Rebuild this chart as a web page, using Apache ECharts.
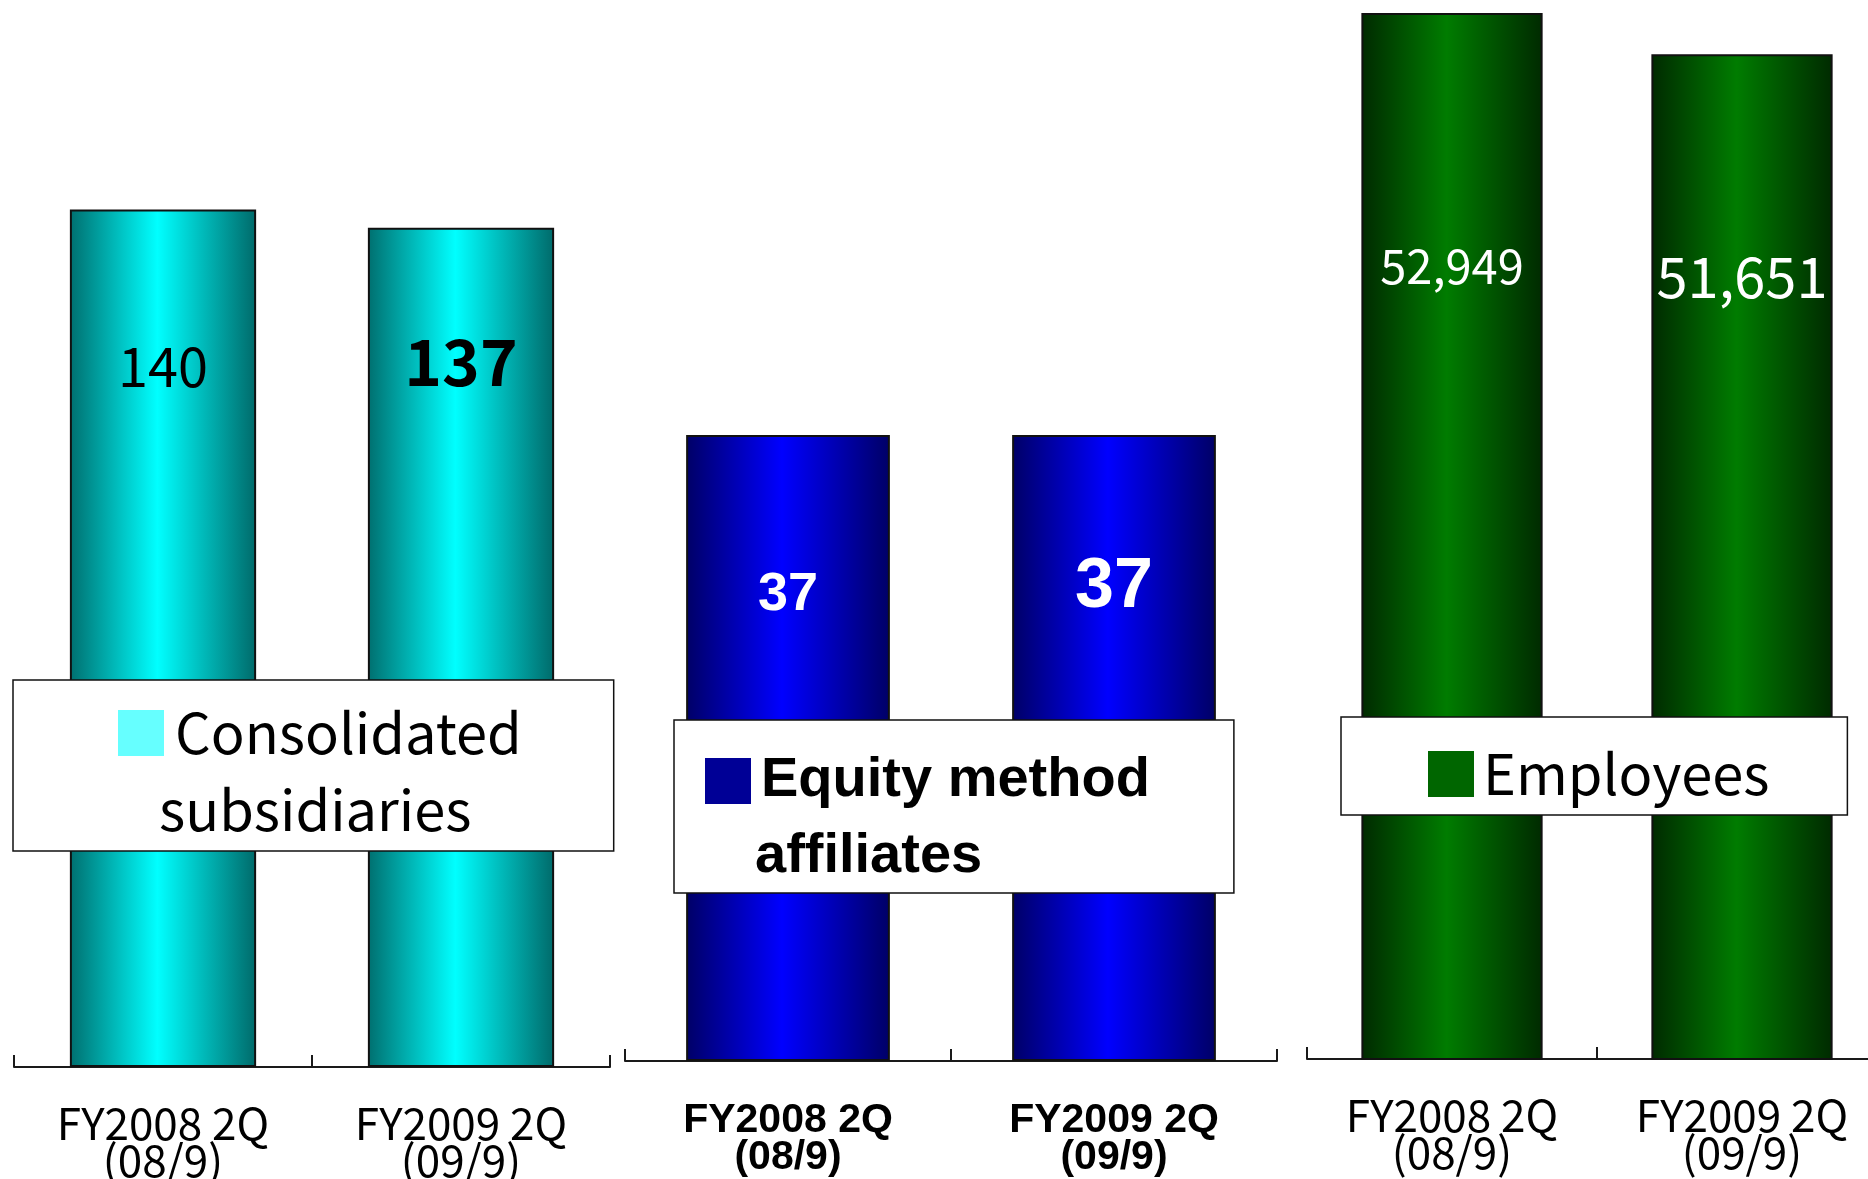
<!DOCTYPE html>
<html>
<head>
<meta charset="utf-8">
<script src="https://cdn.jsdelivr.net/npm/echarts@6/dist/echarts.min.js"></script>
<style>
  html, body { margin: 0; padding: 0; background: #fff; }
  #chart { width: 1868px; height: 1179px; }
</style>
</head>
<body>
<div id="chart"></div>
<script>
// Period labels shared by the three panels
const periods = ['FY2008 2Q\n(08/9)', 'FY2009 2Q\n(09/9)'];

// Values per panel
const consolidatedSubsidiaries = [140, 137];
const equityMethodAffiliates = [37, 37];
const employees = [52949, 51651];

// Legend captions, one entry per line
const legendLines = [
  ['Consolidated', 'subsidiaries'],
  ['Equity method', 'affiliates'],
  ['Employees']
];

// Layout and styling of each panel
const panels = [
  {
    values: consolidatedSubsidiaries,
    grid: { left: 14, width: 596, top: 0, bottom: 112 },
    yMin: 0, yMax: 174.2,
    gradient: ['#006f6f', '#00ffff', '#006a6a'],
    swatch: '#66ffff',
    axisFont: { family: 'Noto Sans CJK JP', size: 44, weight: 'normal', margin: 38 },
    labels: [
      { dy: 157, size: 54, weight: 'normal', color: '#000', family: 'Noto Sans CJK JP' },
      { dy: 134, size: 64, weight: 'bold', color: '#000', family: 'Noto Sans CJK JP' }
    ],
    legend: { left: 13, top: 680, padding: [25, 92, 13, 99], family: 'Noto Sans CJK JP',
              size: 56, weight: 'normal', lineHeight: 77, gap: 11, indent: 41 }
  },
  {
    values: equityMethodAffiliates,
    grid: { left: 625, width: 652, top: 0, bottom: 118 },
    yMin: 0, yMax: 62.7,
    gradient: ['#000066', '#0000ff', '#000066'],
    swatch: '#000096',
    axisFont: { family: 'Liberation Sans', size: 41, weight: 'bold', margin: 41 },
    labels: [
      { dy: 160, size: 54, weight: 'bold', color: '#fff', family: 'Liberation Sans' },
      { dy: 153, size: 70, weight: 'bold', color: '#fff', family: 'Liberation Sans' }
    ],
    legend: { left: 674, top: 720, padding: [33, 84, 8, 25], family: 'Liberation Sans',
              size: 56, weight: 'bold', lineHeight: 76, gap: 10, indent: 50 }
  },
  {
    values: employees,
    grid: { left: 1307, width: 580, top: 0, bottom: 120 },
    yMin: 20000, yMax: 53358,
    gradient: ['#002a00', '#007c00', '#002a00'],
    swatch: '#006600',
    axisFont: { family: 'Noto Sans CJK JP', size: 44, weight: 'normal', margin: 38 },
    labels: [
      { dy: 253, size: 47, weight: 'normal', color: '#fff', family: 'Noto Sans CJK JP' },
      { dy: 223, size: 56, weight: 'normal', color: '#fff', family: 'Noto Sans CJK JP' }
    ],
    legend: { left: 1341, top: 717, padding: [29, 78, 13, 81], family: 'Noto Sans CJK JP',
              size: 56, weight: 'normal', lineHeight: 60, gap: 9, indent: 0 }
  }
];

const seriesNames = legendLines.map(lines => lines.join(' '));

const chart = echarts.init(document.getElementById('chart'), null, { renderer: 'canvas' });

const option = {
  animation: false,
  backgroundColor: '#fff',
  grid: panels.map(p => Object.assign({ containLabel: false, outerBoundsMode: 'none' }, p.grid)),
  xAxis: panels.map((p, i) => ({
    type: 'category',
    gridIndex: i,
    data: periods,
    axisLine: { show: true, lineStyle: { color: '#1a1a1a', width: 2 } },
    axisTick: { show: true, inside: true, length: 12, lineStyle: { color: '#1a1a1a', width: 2 } },
    axisLabel: {
      interval: 0,
      color: '#000',
      fontFamily: p.axisFont.family,
      fontSize: p.axisFont.size,
      fontWeight: p.axisFont.weight,
      lineHeight: 37,
      margin: p.axisFont.margin
    },
    splitLine: { show: false }
  })),
  yAxis: panels.map((p, i) => ({
    type: 'value',
    gridIndex: i,
    min: p.yMin,
    max: p.yMax,
    show: false,
    splitLine: { show: false }
  })),
  legend: panels.map((p, i) => {
    const lines = legendLines[i];
    const L = p.legend;
    const font = { fontFamily: L.family, fontSize: L.size, fontWeight: L.weight, color: '#000' };
    return {
      data: [seriesNames[i]],
      left: L.left,
      top: L.top,
      padding: L.padding,
      itemWidth: 0,
      itemHeight: 0,
      selectedMode: false,
      backgroundColor: '#fff',
      borderColor: '#111',
      borderWidth: 1.5,
      borderRadius: 0,
      formatter: () => '{sq|}{t|' + lines[0] + '}' + (lines[1] ? '\n{t2|' + lines[1] + '}' : ''),
      textStyle: Object.assign({}, font, {
        rich: {
          sq: { width: 46, height: 46, backgroundColor: p.swatch },
          t: Object.assign({}, font, { lineHeight: L.lineHeight, padding: [0, 0, 0, L.gap] }),
          t2: Object.assign({}, font, { lineHeight: L.lineHeight, padding: [0, 0, 0, L.indent] })
        }
      })
    };
  }),
  series: panels.map((p, i) => ({
    type: 'bar',
    name: seriesNames[i],
    xAxisIndex: i,
    yAxisIndex: i,
    barWidth: '62.5%',
    itemStyle: {
      color: new echarts.graphic.LinearGradient(0, 0, 1, 0, [
        { offset: 0, color: p.gradient[0] },
        { offset: 0.47, color: p.gradient[1] },
        { offset: 1, color: p.gradient[2] }
      ]),
      borderColor: '#111',
      borderWidth: 2
    },
    label: {
      show: true,
      align: 'center',
      verticalAlign: 'middle',
      formatter: params => params.value.toLocaleString('en-US')
    },
    data: p.values.map((v, j) => {
      const s = p.labels[j];
      return {
        value: v,
        label: {
          position: ['50%', s.dy],
          color: s.color,
          fontSize: s.size,
          fontWeight: s.weight,
          fontFamily: s.family
        }
      };
    })
  }))
};

chart.setOption(option);
</script>
</body>
</html>
